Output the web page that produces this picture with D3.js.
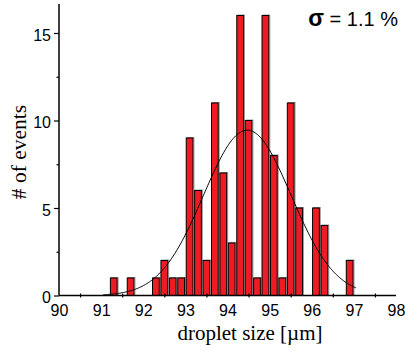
<!DOCTYPE html>
<html>
<head>
<meta charset="utf-8">
<script src="https://cdn.jsdelivr.net/npm/d3@7"></script>
<style>
  html, body { margin: 0; padding: 0; background: #fff; }
  svg { display: block; }
</style>
</head>
<body>
<div id="chart"></div>
<script>
// Droplet size histogram, 0.2 µm bins, with a Gaussian fit
const binCenters = [91.3, 91.7, 92.3, 92.5, 92.7, 92.9, 93.1, 93.3, 93.5, 93.7, 93.9, 94.1,
                    94.3, 94.5, 94.7, 94.9, 95.1, 95.3, 95.5, 95.7, 96.1, 96.3, 96.9];
const counts     = [1, 1, 1, 2, 1, 1, 9, 6, 2, 11, 7, 3,
                    16, 10, 1, 16, 8, 1, 11, 5, 5, 4, 2];
const binWidth = 0.2;

// Gaussian fit parameters
const fitMean = 94.47;      // µm
const fitSigmaPct = 1.1;    // % of mean
const fitPeak = 9.45;       // events
const fitRange = [91.05, 97.05];

const xTickLabels = [90, 91, 92, 93, 94, 95, 96, 97, 98];
const xTickMarks  = [90.5, 91.5, 92.5, 93.5, 94.5, 95.5, 96.5, 97.5];
const yTickLabels = [0, 5, 10, 15];
const yMinorTicks = [2.5, 7.5, 12.5];

const W = 405, H = 351;
const svg = d3.select("#chart").append("svg")
  .attr("width", W).attr("height", H)
  .attr("viewBox", `0 0 ${W} ${H}`);

const x = d3.scaleLinear().domain([90, 98]).range([59, 396]);
const y = d3.scaleLinear().domain([0, 16.657]).range([295.5, 4]);

const bars = binCenters.map((c, i) => ({ c, n: counts[i] })).filter(d => d.n > 0);
const barW = binWidth * 0.8;

// bar shadows
svg.append("g").selectAll("rect").data(bars).join("rect")
  .attr("x", d => x(d.c - barW / 2) + 1)
  .attr("y", d => y(d.n) - 0.5)
  .attr("width", x(90 + barW) - x(90))
  .attr("height", d => y(0) - y(d.n))
  .attr("fill", "none")
  .attr("stroke", "#9a9a9a")
  .attr("stroke-width", 1);

// bars
svg.append("g").selectAll("rect").data(bars).join("rect")
  .attr("x", d => x(d.c - barW / 2))
  .attr("y", d => y(d.n))
  .attr("width", x(90 + barW) - x(90))
  .attr("height", d => y(0) - y(d.n))
  .attr("fill", "#ed1c24")
  .attr("stroke", "#000")
  .attr("stroke-width", 1);

// Gaussian fit curve
const sigma = fitMean * fitSigmaPct / 100;
const curvePts = d3.range(fitRange[0], fitRange[1] + 1e-9, 0.02)
  .map(v => [v, fitPeak * Math.exp(-0.5 * Math.pow((v - fitMean) / sigma, 2))]);
svg.append("path")
  .attr("d", d3.line().x(d => x(d[0])).y(d => y(d[1])).curve(d3.curveBasis)(curvePts))
  .attr("fill", "none")
  .attr("stroke", "#000")
  .attr("stroke-width", 1);

// x axis: tick marks at half-units crossing the line, labels at whole units
const gx = svg.append("g").attr("transform", `translate(0,${y(0)})`);
gx.call(d3.axisBottom(x).tickValues(xTickMarks).tickSize(2).tickFormat(""));
gx.selectAll(".tick line").attr("y1", -2).attr("stroke-width", 1.2);
gx.select(".domain").attr("d", `M${x(90)},0H${x(98)}`).attr("stroke-width", 1.5);

const gxl = svg.append("g").attr("transform", `translate(0,${y(0)})`);
gxl.call(d3.axisBottom(x).tickValues(xTickLabels).tickSize(0).tickPadding(9).tickFormat(d3.format("d")));
gxl.select(".domain").remove();
gxl.selectAll("text").attr("font-family", "Liberation Sans, Arial, sans-serif")
  .attr("font-size", 16).attr("fill", "#000");

// y axis: major ticks with labels, minor ticks between
const gy = svg.append("g").attr("transform", `translate(${x(90)},0)`);
gy.call(d3.axisLeft(y).tickValues(yTickLabels).tickSize(5).tickPadding(3).tickFormat(d3.format("d")));
gy.select(".domain").attr("d", `M0,${y(0)}V${y.range()[1]}`).attr("stroke-width", 1.5);
gy.selectAll(".tick line").attr("stroke-width", 1.2);
gy.selectAll("text").attr("font-family", "Liberation Sans, Arial, sans-serif")
  .attr("font-size", 16).attr("fill", "#000").attr("dy", "0.45em");

const gym = svg.append("g").attr("transform", `translate(${x(90)},0)`);
gym.call(d3.axisLeft(y).tickValues(yMinorTicks).tickSize(2.5).tickFormat(""));
gym.select(".domain").remove();
gym.selectAll(".tick line").attr("stroke-width", 1.2);

// axis titles
svg.append("text")
  .attr("x", 250).attr("y", 340)
  .attr("text-anchor", "middle")
  .attr("font-family", "Liberation Serif, Times New Roman, serif")
  .attr("font-size", 21)
  .text("droplet size [µm]");

svg.append("text")
  .attr("transform", "translate(26,152) rotate(-90)")
  .attr("text-anchor", "middle")
  .attr("font-family", "Liberation Serif, Times New Roman, serif")
  .attr("font-size", 21.5)
  .text("# of events");

// fit width annotation
const sig = svg.append("text")
  .attr("x", 398).attr("y", 26)
  .attr("text-anchor", "end")
  .attr("font-family", "Liberation Sans, Arial, sans-serif")
  .attr("font-size", 20);
sig.append("tspan").attr("font-weight", "bold").attr("font-size", 23).text("σ");
sig.append("tspan").text(` = ${fitSigmaPct} %`);
</script>
</body>
</html>
